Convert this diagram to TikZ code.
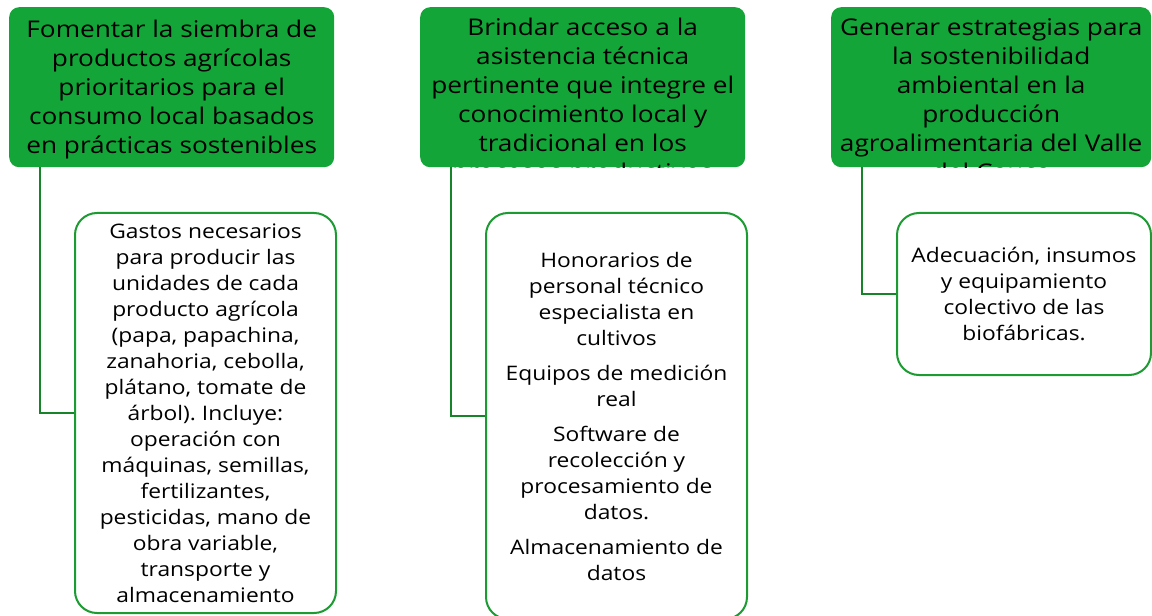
\documentclass[tikz,border=0pt]{standalone}
\usepackage{fontspec}
\setmainfont{Open Sans}[FakeStretch=1.14]
\frenchspacing
\definecolor{hojaverde}{RGB}{20,165,56}
\definecolor{lineaverde}{RGB}{28,155,50}
\begin{document}
\begin{tikzpicture}[x=1bp,y=1bp,
	meta/.style={fill=hojaverde,rounded corners=10bp,minimum height=160bp,anchor=north west,inner sep=0pt},
	metatexto/.style={anchor=north,align=center,inner sep=0pt,font=\fontsize{23bp}{29bp}\selectfont},
	gasto/.style={draw=lineaverde,line width=2bp,rounded corners=22bp,fill=white,anchor=north west,align=center,inner sep=0pt,font=\fontsize{20bp}{26bp}\selectfont},
	rama/.style={draw=lineaverde!85!black,line width=2bp}]
	\useasboundingbox (0,0) rectangle (1152,-616);
	\node [meta,minimum width=325bp] (metaA) at (9,-7) {};
	\node [meta,minimum width=325bp] (metaB) at (420,-7) {};
	\node [meta,minimum width=320bp] (metaC) at (831,-7) {};
	\begin{scope}
		\clip [rounded corners=10bp] (metaA.south west) rectangle (metaA.north east);
		\node [metatexto] (textoA) at ([yshift=-13bp]metaA.north) {Fomentar la siembra de\\productos agrícolas\\prioritarios para el\\consumo local basados\\en prácticas sostenibles};
	\end{scope}
	\begin{scope}
		\clip [rounded corners=10bp] (metaB.south west) rectangle (metaB.north east);
		\node [metatexto] (textoB) at ([yshift=-11bp]metaB.north) {Brindar acceso a la\\asistencia técnica\\pertinente que integre el\\conocimiento local y\\tradicional en los\\procesos productivos};
	\end{scope}
	\begin{scope}
		\clip [rounded corners=10bp] (metaC.south west) rectangle (metaC.north east);
		\node [metatexto] (textoC) at ([yshift=-11bp]metaC.north) {Generar estrategias para\\la sostenibilidad\\ambiental en la\\producción\\agroalimentaria del Valle\\del Cauca};
	\end{scope}
	\node [gasto,minimum width=261bp,minimum height=400bp] (gastoA) at (74,-212) {Gastos necesarios\\para producir las\\unidades de cada\\producto agrícola\\(papa, papachina,\\zanahoria, cebolla,\\plátano, tomate de\\árbol). Incluye:\\operación con\\máquinas, semillas,\\fertilizantes,\\pesticidas, mano de\\obra variable,\\transporte y\\almacenamiento};
	\node [gasto,minimum width=261bp,minimum height=406bp] (gastoB) at (485,-212) {Honorarios de\\personal técnico\\especialista en\\cultivos\\[9bp]Equipos de medición\\real\\[9bp]Software de\\recolección y\\procesamiento de\\datos.\\[9bp]Almacenamiento de\\datos};
	\node [gasto,minimum width=254bp,minimum height=162bp] (gastoC) at (896,-212) {Adecuación, insumos\\y equipamiento\\colectivo de las\\biofábricas.};
	\draw [rama] ([xshift=31bp]metaA.south west) |- (gastoA.west);
	\draw [rama] ([xshift=31bp]metaB.south west) |- (gastoB.west);
	\draw [rama] ([xshift=31bp]metaC.south west) |- (gastoC.west);
\end{tikzpicture}
\end{document}
